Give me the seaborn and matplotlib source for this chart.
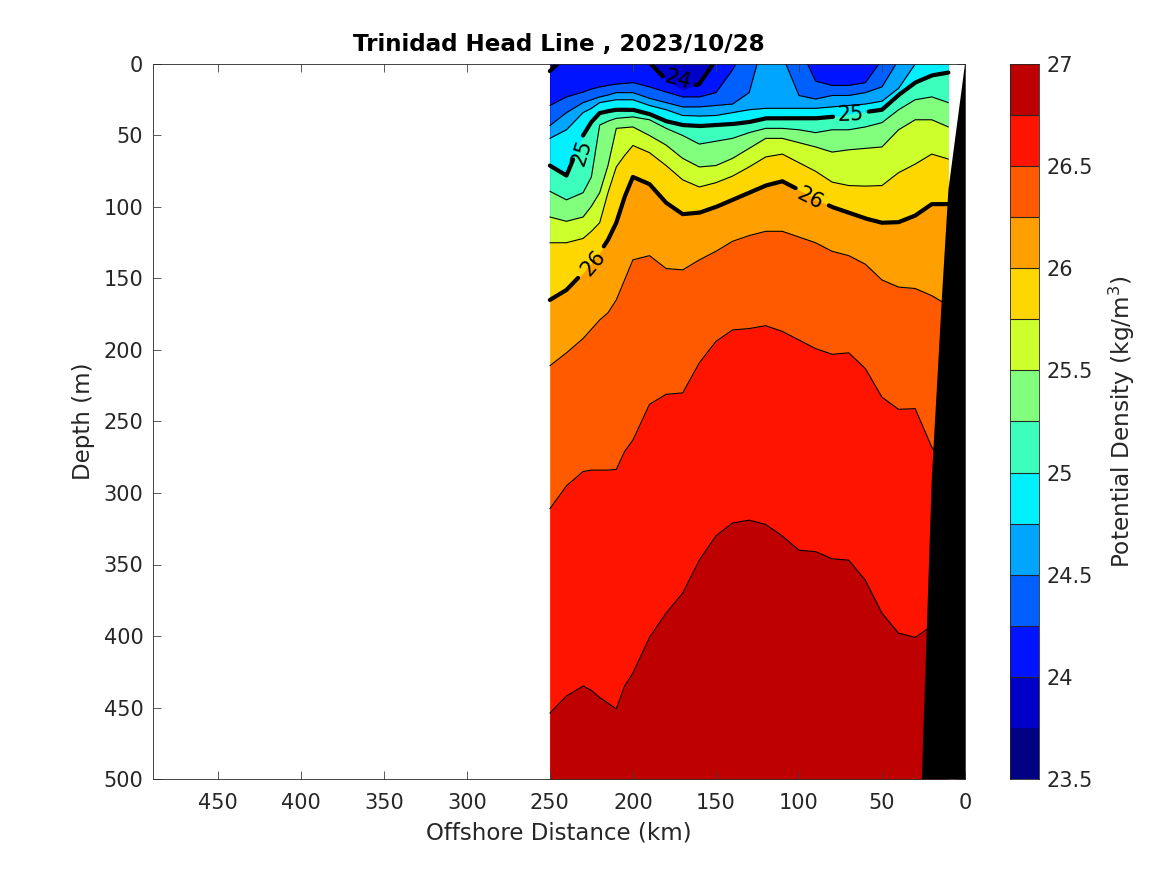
"""Trinidad Head Line potential density section."""

import numpy as np
import matplotlib
matplotlib.use('Agg')
import matplotlib.pyplot as plt
import seaborn as sns
from matplotlib.colors import ListedColormap

# station distances, depth (m) of each isopycnal at the station
# negative depth means the isopycnal has surfaced there
distance_km = [250, 240, 230, 225, 220, 215, 210, 205, 200, 190, 180, 170, 160, 150, 140, 130,
               120, 110, 100, 90, 80, 70, 60, 50, 40, 30, 20, 10]

depth_24_00 = [5, -6, -20, -20, -20, -20, -20, -20, -20, -1, 11, 18, 14, -3, -20, -20,
               -20, -20, -20, -20, -20, -20, -20, -20, -20, -20, -20, -20]
depth_24_25 = [29, 23, 19.6, 17.5, 16, 15, 14, 13.6, 13, 16, 19.6, 23, 23, 20, 4, -17,
               -20, -20, -13, 12, 15, 15, 13, -3, -20, -20, -20, -20]
depth_24_50 = [43, 34, 27, 25, 23, 21.7, 20, 20, 20, 24, 27, 30, 30, 29, 28, 20,
               -22, -6, 22, 24.5, 22, 22, 20, 16, -3, -20, -20, -20]
depth_24_75 = [52, 46, 34, 31, 27, 26, 25, 25, 25, 29, 32, 36, 36.4, 36, 34, 32,
               31, 31, 31, 31, 30, 29, 28, 26, 17, 0, -15, -20]
depth_25_00 = [71, 78, 50, 40.6, 34.3, 33, 32, 32, 32, 35, 40, 42.7, 43.4, 42.7, 42, 40.6,
               38, 38, 38, 38, 37, 35, 33.6, 32, 21.7, 13, 8, 6]
depth_25_25 = [89, 95, 90, 79, 42.7, 40, 38, 37.5, 37, 39, 45, 50, 56, 54, 52, 48,
               45, 45, 46, 48, 46, 46, 44, 41, 32, 25, 23, 27]
depth_25_50 = [107, 110, 107, 99.5, 90, 71, 45, 44.5, 44, 50, 56.7, 66, 72, 71, 66, 59,
               52, 52, 55, 58, 61.6, 60, 59, 58, 46, 39, 39, 44]
depth_25_75 = [125, 125, 122, 117, 111, 90, 72, 64, 57, 62, 71, 81, 86, 83, 78.4, 72,
               65, 63, 69, 75, 82.6, 85, 85.4, 85, 76, 70, 63, 66.5]
depth_26_00 = [165, 158, 146, 139, 132, 123, 111, 93, 79, 84, 97, 105, 104, 100, 95, 90,
               85, 82, 88, 94.5, 100, 104, 108, 111, 110.6, 106, 98, 98]
depth_26_25 = [211, 202, 192, 185.5, 179, 174, 165, 151, 137, 134, 143, 144, 137, 131, 124, 120,
               117, 117, 121, 125, 131, 134, 140, 151, 156, 157, 162, 169]
depth_26_50 = [311, 295, 285, 284, 284, 284, 283.5, 271, 263, 238, 231, 230, 209, 194, 186, 185,
               183, 187, 193, 199, 203, 202, 213, 233, 241.5, 241, 268, 284]
depth_26_75 = [454, 442, 435, 438, 443, 447, 451, 435, 426, 401, 384, 370, 347, 330, 321, 319,
               322, 330, 340, 341, 346, 347, 361, 384, 398, 401, 393, 382]

levels = [24.0, 24.25, 24.5, 24.75, 25.0, 25.25, 25.5, 25.75, 26.0, 26.25, 26.5, 26.75]
level_depths = [depth_24_00, depth_24_25, depth_24_50, depth_24_75, depth_25_00, depth_25_25,
                depth_25_50, depth_25_75, depth_26_00, depth_26_25, depth_26_50, depth_26_75]

# colour of each band, 23.5-23.75 first
band_colors = ['#000082', '#0000c8', '#0014ff', '#005fff', '#00a5ff', '#00f0ff', '#3cffbe',
               '#82ff7d', '#cdff2d', '#ffd700', '#ffa000', '#ff5a00', '#ff1400', '#be0000']
band_edges = [23.5, 23.75, 24.0, 24.25, 24.5, 24.75, 25.0, 25.25,
              25.5, 25.75, 26.0, 26.25, 26.5, 26.75, 27.0]

# sea floor
bathy_km = [0, 10, 14, 20, 23, 26, 0]
bathy_m = [0, 88, 165, 290, 395, 500, 500]

xticks_km = [450, 400, 350, 300, 250, 200, 150, 100, 50, 0]
yticks_m = [0, 50, 100, 150, 200, 250, 300, 350, 400, 450, 500]
cbar_labels = ['27', '26.5', '26', '25.5', '25', '24.5', '24', '23.5']

# thick contours: level, then x ranges left open for the labels
thick_gaps = {
    24.0: [(162, 182)],
    25.0: [(58, 79.5), (230, 236)],
    26.0: [(82, 102), (217.5, 233)],
}
# text, x, depth, rotation
contour_labels = [
    ('24', 173, 11, -15),
    ('25', 231, 62, 72),
    ('25', 69, 35, 2),
    ('26', 224, 139, 50),
    ('26', 93, 94, -27),
]
BLACK = '#000000'
TEXT = '#262626'


def draw_section(ax):
    x = np.array(distance_km, dtype=float)
    ax.fill_between(x, -30, 500, color=band_colors[1], lw=0, zorder=1)
    for i, depth in enumerate(level_depths):
        ax.fill_between(x, depth, 500, color=band_colors[i + 2], lw=0, zorder=1)


def draw_contours(ax):
    x = np.array(distance_km, dtype=float)
    dense_x = np.arange(250, 9.9, -0.25)
    for level, depth in zip(levels, level_depths):
        if level not in thick_gaps:
            sns.lineplot(x=x, y=depth, ax=ax, color=BLACK, lw=0.8, estimator=None, sort=False, zorder=2)
            continue
        # 1. break the thick line where the label sits
        dense_d = np.interp(dense_x, x[::-1], np.array(depth)[::-1])
        keep = np.ones(len(dense_x), dtype=bool)
        for lo, hi in thick_gaps[level]:
            keep &= ~((dense_x > lo) & (dense_x < hi))
        starts = np.flatnonzero(np.diff(np.r_[0, keep.astype(int), 0]) == 1)
        stops = np.flatnonzero(np.diff(np.r_[0, keep.astype(int), 0]) == -1)
        for a, b in zip(starts, stops):
            sns.lineplot(x=dense_x[a:b], y=dense_d[a:b], ax=ax, color=BLACK, lw=3,
                         estimator=None, sort=False, zorder=3)


def draw_colorbar(cax):
    values = np.arange(len(band_colors))[::-1].reshape(-1, 1)
    sns.heatmap(values, ax=cax, cmap=ListedColormap(band_colors), cbar=False,
                vmin=-0.5, vmax=len(band_colors) - 0.5,
                xticklabels=False, yticklabels=False)
    # the darkest step has no separator in the reference
    cax.hlines(np.arange(1, 13), 0, 1, color=TEXT, lw=0.8)
    cax.yaxis.tick_right()
    cax.set_yticks(np.arange(0, len(band_edges), 2))
    cax.set_yticklabels(cbar_labels, rotation=0, fontsize=15, color=TEXT)
    cax.tick_params(axis='y', length=0, pad=5.5)
    for side in cax.spines.values():
        side.set_visible(True)
        side.set_linewidth(0.6)
        side.set_color(TEXT)
    cax.yaxis.set_label_position('right')
    cax.set_ylabel('Potential Density (kg/m$^3$)', fontsize=16.7, color=TEXT, labelpad=10)


def main():
    sns.set_theme(style='white')
    plt.rcParams['font.family'] = ['DejaVu Sans']
    plt.rcParams['mathtext.default'] = 'regular'

    fig = plt.figure(figsize=(11.67, 8.75), dpi=100)
    ax = fig.add_axes([153 / 1167, 1 - 779 / 875, 812 / 1167, 715 / 875])
    cax = fig.add_axes([1010 / 1167, 1 - 779 / 875, 29 / 1167, 715 / 875])

    draw_section(ax)
    draw_contours(ax)
    ax.fill(bathy_km, bathy_m, color=BLACK, lw=0, zorder=4)

    for text, x, depth, rotation in contour_labels:
        ax.text(x, depth, text, fontsize=15, rotation=rotation, ha='center', va='center',
                color=BLACK, zorder=5)

    ax.set_xlim(489, 0)
    ax.set_ylim(500, 0)
    ax.set_xticks(xticks_km)
    ax.set_yticks(yticks_m)
    ax.tick_params(axis='both', which='major', direction='in', length=6, width=0.6, top=True,
                   right=True, bottom=True, left=True, color='#404040', labelcolor=TEXT,
                   labelsize=15)
    ax.tick_params(axis='x', pad=10)
    ax.tick_params(axis='y', pad=7)
    for side in ax.spines.values():
        side.set_linewidth(0.6)
        side.set_color(TEXT)
        side.set_zorder(6)
    ax.set_axisbelow(False)
    ax.set_xlabel('Offshore Distance (km)', fontsize=16.5, color=TEXT, labelpad=6.5)
    ax.set_ylabel('Depth (m)', fontsize=16.5, color=TEXT, labelpad=6)
    ax.set_title('Trinidad Head Line , 2023/10/28', fontsize=16.6, fontweight='bold', color=BLACK, pad=9)

    draw_colorbar(cax)

    fig.savefig('out.png', dpi=100)
    plt.close(fig)


if __name__ == '__main__':
    main()
